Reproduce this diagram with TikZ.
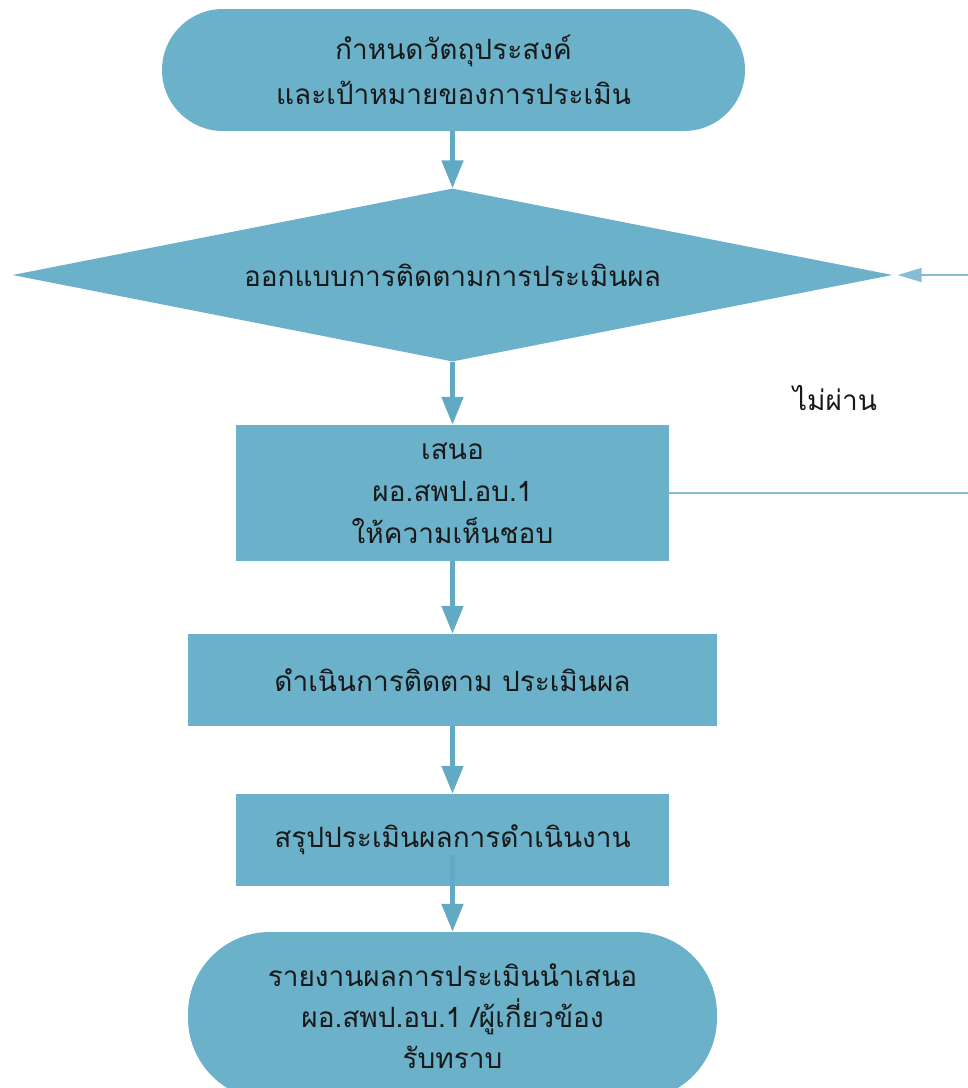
\documentclass[tikz,border=0pt]{standalone}
\usepackage{fontspec}
\newfontfamily\thaifont[Script=Thai]{Loma}
\usetikzlibrary{shapes.geometric,arrows.meta}
\definecolor{boxfill}{HTML}{6BB1CA}
\definecolor{arrowcol}{HTML}{62AAC3}
\definecolor{thincol}{HTML}{86BDD2}
\tikzset{
  blk/.style={fill=boxfill, draw=none, inner sep=0pt, align=center,
    font=\thaifont\fontsize{28}{42}\selectfont, text=black!90},
  flowarrow/.style={draw=arrowcol, line width=5pt,
    -{Triangle[width=21pt,length=28pt]}},
  thinarrow/.style={draw=thincol, line width=1.5pt,
    -{Triangle[width=14pt,length=24pt]}},
  thinline/.style={draw=thincol, line width=1.5pt},
}
\begin{document}
\begin{tikzpicture}[x=1pt,y=-1pt]
\useasboundingbox (0,0) rectangle (968,1088);
\begin{scope}
\clip (0,0) rectangle (968,1088);
\node[blk, rectangle, rounded corners=61pt, minimum width=583pt, minimum height=122pt, font=\thaifont\fontsize{28}{45}\selectfont] (start) at (453.5,70)
  {กำหนดวัตถุประสงค์\\และเป้าหมายของการประเมิน};
\node[blk, diamond, shape aspect=5.087, minimum width=880pt, minimum height=173pt] (design) at (452.5,275)
  {ออกแบบการติดตามการประเมินผล};
\node[blk, rectangle, minimum width=433pt, minimum height=136pt] (propose) at (452.5,493)
  {เสนอ\\ผอ.สพป.อบ.1\\ให้ความเห็นชอบ};
\node[blk, rectangle, minimum width=529pt, minimum height=92pt] (run) at (452.5,680)
  {ดำเนินการติดตาม ประเมินผล};
\node[blk, rectangle, minimum width=433pt, minimum height=92pt] (summ) at (452.5,840)
  {สรุปประเมินผลการดำเนินงาน};
\node[blk, rectangle, rounded corners=82pt, minimum width=529pt, minimum height=168pt, font=\thaifont\fontsize{28}{41}\selectfont] (report) at (452.5,1016)
  {รายงานผลการประเมินนำเสนอ\\ผอ.สพป.อบ.1 /ผู้เกี่ยวข้อง\\รับทราบ};
\end{scope}
\coordinate (sumin) at (452.5,855);
\coordinate (rtop) at (968,275);
\coordinate (rbot) at (968,493);
\draw[flowarrow] (start.south -| design.north) -- (design.north);
\draw[flowarrow] (design.south) -- (propose.north);
\draw[flowarrow] (propose.south) -- (run.north);
\draw[flowarrow] (run.south) -- (summ.north);
\draw[flowarrow] (sumin) -- (report.north);
\draw[thinarrow, shorten >=5pt] (rtop) -- (design.east);
\draw[thinline] (propose.east) -- (rbot);
\node[font=\thaifont\fontsize{28}{32}\selectfont, text=black!90] (fail) at (835,398) {ไม่ผ่าน};
\end{tikzpicture}
\end{document}
